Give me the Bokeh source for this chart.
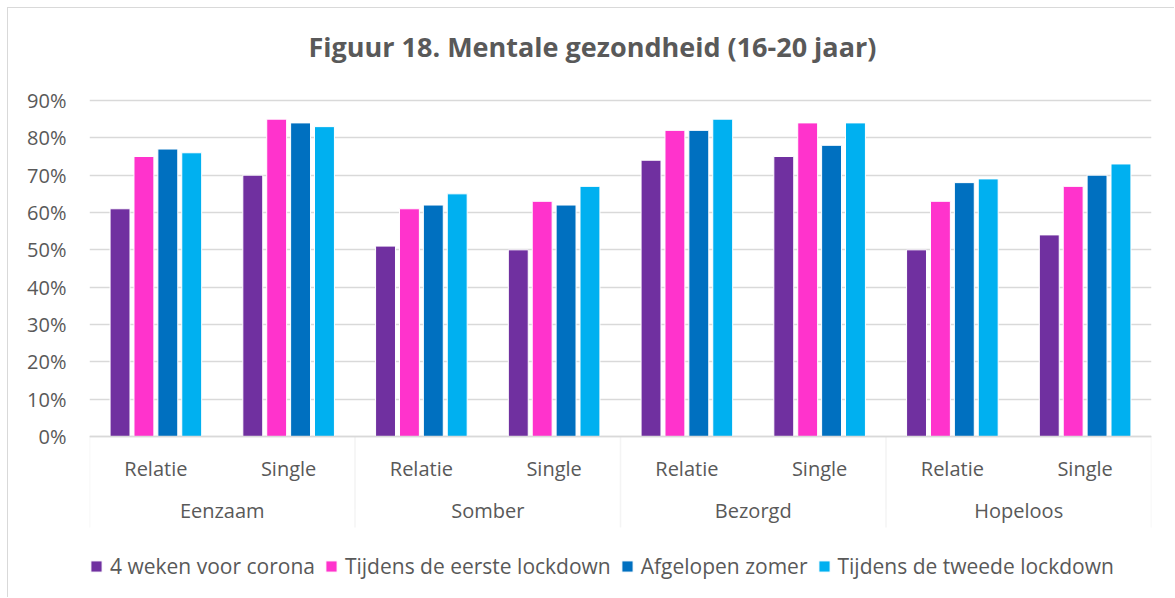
from bokeh.plotting import figure
from bokeh.models import FactorRange, Legend, LegendItem, FixedTicker, PrintfTickFormatter, ColumnDataSource, BoxAnnotation
from bokeh.transform import dodge
from bokeh.embed import file_html
from bokeh.resources import INLINE

groups = ["Eenzaam", "Somber", "Bezorgd", "Hopeloos"]
subgroups = ["Relatie", "Single"]
series = ["4 weken voor corona", "Tijdens de eerste lockdown", "Afgelopen zomer", "Tijdens de tweede lockdown"]
colors = ["#7030A0", "#FF33CC", "#0070C0", "#00B0F0"]

voor_corona = [61, 70, 51, 50, 74, 75, 50, 54]
eerste_lockdown = [75, 85, 61, 63, 82, 84, 63, 67]
afgelopen_zomer = [77, 84, 62, 62, 82, 78, 68, 70]
tweede_lockdown = [76, 83, 65, 67, 85, 84, 69, 73]
y_ticks = [0, 10, 20, 30, 40, 50, 60, 70, 80, 90]

factors = [(g, s) for g in groups for s in subgroups]
source = ColumnDataSource(dict(x=factors, s0=voor_corona, s1=eerste_lockdown,
                               s2=afgelopen_zomer, s3=tweede_lockdown))

TXT = "#595959"
FONT = "Open Sans"
PX = 336 / 90.0            # pixels per percent point
above = 32 / PX            # empty room over the 90% line inside the frame
below = 490 / PX - 90      # room under 0% inside the frame for the category labels and legend

p = figure(width=1167, height=590,
           x_range=FactorRange(*factors, group_padding=0, subgroup_padding=0, factor_padding=0, range_padding=0),
           y_range=(-below, 90 + above), output_backend="svg", toolbar_location=None,
           title="Figuur 18. Mentale gezondheid (16-20 jaar)",
           min_border_left=81, min_border_right=24, min_border_top=60, min_border_bottom=8)
p.styles = {"margin-left": "7px", "margin-top": "7px",
            "border-top": "1px solid #d9d9d9", "border-left": "1px solid #d9d9d9"}

p.title.align = "left"
p.title.offset = 219
p.title.text_font = FONT
p.title.text_font_size = "27px"
p.title.text_font_style = "bold"
p.title.text_color = TXT
p.title.standoff = 8

offsets = [-0.27, -0.09, 0.09, 0.27]
cols = ["s0", "s1", "s2", "s3"]
items = []
for i in range(4):
    r = p.vbar(x=dodge("x", offsets[i], range=p.x_range), top=cols[i], width=0.15, source=source,
               fill_color=colors[i], line_color="white", line_width=1)
    items.append(LegendItem(label=series[i], renderers=[r]))

p.xgrid.grid_line_color = None
p.ygrid.ticker = FixedTicker(ticks=y_ticks)
p.ygrid.grid_line_color = "#d9d9d9"
p.ygrid.grid_line_width = 1.5
p.yaxis.ticker = FixedTicker(ticks=y_ticks)
p.yaxis.formatter = PrintfTickFormatter(format="%d%%")
p.yaxis.axis_line_color = None
p.yaxis.major_tick_line_color = None
p.yaxis.minor_tick_line_color = None
p.yaxis.major_label_text_font = FONT
p.yaxis.major_label_text_font_size = "20px"
p.yaxis.major_label_text_color = TXT
p.yaxis.major_label_standoff = 17

xa = p.xaxis[0]
xa.fixed_location = 0
xa.axis_line_color = "#d9d9d9"
xa.axis_line_width = 1.5
xa.major_tick_line_color = None
xa.minor_tick_line_color = None
xa.major_label_text_font = FONT
xa.major_label_text_font_size = "20px"
xa.major_label_text_color = TXT
xa.major_label_standoff = 12
xa.group_text_font = FONT
xa.group_text_font_size = "20px"
xa.group_text_color = TXT
xa.group_text_font_style = "normal"
xa.subgroup_text_font = FONT
xa.subgroup_text_font_size = "20px"
xa.subgroup_text_color = TXT
xa.subgroup_text_font_style = "normal"
xa.separator_line_color = None

p.outline_line_color = None

# group separators of the category axis, at the edges and between the groups
n_sub = len(subgroups)
for k in range(len(groups) + 1):
    edge = k * n_sub
    p.add_layout(BoxAnnotation(left=edge, right=edge, top=0, bottom=-91 / PX,
                               fill_color=None, line_color="#d9d9d9", line_width=1.5))

legend = Legend(items=items, orientation="horizontal", location=(0, 10),
                label_text_font=FONT, label_text_font_size="21px", label_text_color=TXT,
                glyph_width=14, glyph_height=14, label_standoff=7, spacing=9,
                border_line_color=None, background_fill_alpha=0, padding=0, margin=0)
p.add_layout(legend)

open("out.html", "w").write(file_html(p, INLINE))
